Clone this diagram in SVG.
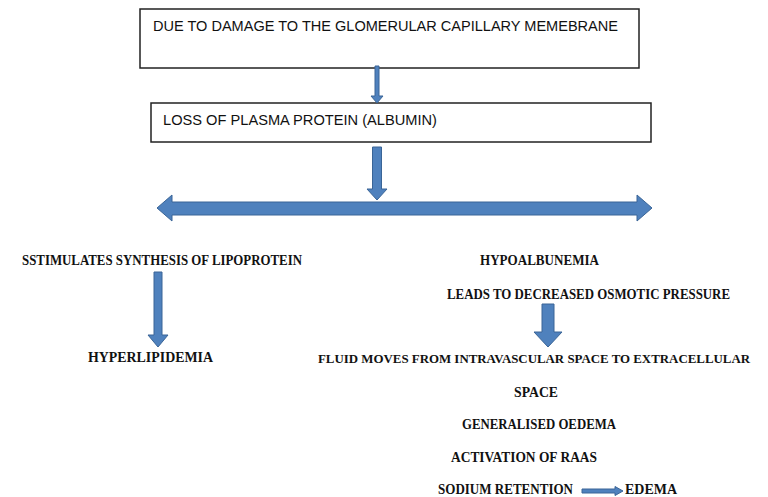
<svg xmlns="http://www.w3.org/2000/svg" width="768" height="497" viewBox="0 0 768 497">
<style>
.box{fill:#fff;stroke:#222;stroke-width:1.5}
.bt{font-family:"Liberation Sans",Arial,sans-serif;font-size:14.5px;fill:#111}
.t{font-family:"Liberation Serif","Times New Roman",serif;font-weight:bold;font-size:14px;fill:#111}
.arr{fill:#4F81BD;stroke:#3A6597;stroke-width:1}
</style>
<rect width="768" height="497" fill="#fff"/>
<g id="n1">
<rect class="box" x="140" y="9" width="499" height="59"/>
<text class="bt" x="153" y="31" textLength="465" lengthAdjust="spacingAndGlyphs">DUE TO DAMAGE TO THE GLOMERULAR CAPILLARY MEMEBRANE</text>
</g>
<g id="n2">
<rect class="box" x="151" y="103" width="500" height="39"/>
<text class="bt" x="163" y="125" textLength="274" lengthAdjust="spacingAndGlyphs">LOSS OF PLASMA PROTEIN (ALBUMIN)</text>
</g>
<g id="n3"><text class="t" x="22" y="265" textLength="280" lengthAdjust="spacingAndGlyphs">SSTIMULATES SYNTHESIS OF LIPOPROTEIN</text></g>
<g id="n4"><text class="t" x="88" y="362" textLength="125" lengthAdjust="spacingAndGlyphs">HYPERLIPIDEMIA</text></g>
<g id="n5"><text class="t" x="480" y="265" textLength="119" lengthAdjust="spacingAndGlyphs">HYPOALBUNEMIA</text></g>
<g id="n6"><text class="t" x="447" y="299" textLength="283" lengthAdjust="spacingAndGlyphs">LEADS TO DECREASED OSMOTIC PRESSURE</text></g>
<g id="n7">
<text class="t" x="318" y="363" font-size="12" style="font-size:12px" textLength="432" lengthAdjust="spacingAndGlyphs">FLUID MOVES FROM INTRAVASCULAR SPACE TO EXTRACELLULAR</text>
<text class="t" x="514" y="397" textLength="44" lengthAdjust="spacingAndGlyphs">SPACE</text>
</g>
<g id="n8"><text class="t" x="462" y="429" textLength="154" lengthAdjust="spacingAndGlyphs">GENERALISED OEDEMA</text></g>
<g id="n9"><text class="t" x="451" y="462" textLength="146" lengthAdjust="spacingAndGlyphs">ACTIVATION OF RAAS</text></g>
<g id="n10"><text class="t" x="438" y="494" textLength="135" lengthAdjust="spacingAndGlyphs">SODIUM RETENTION</text></g>
<g id="n11"><text class="t" x="625" y="494" textLength="52" lengthAdjust="spacingAndGlyphs">EDEMA</text></g>
<g id="connectors">
<polygon class="arr" points="375,66 379,66 379,96 383,96 377,103 371,96 375,96"/>
<polygon class="arr" points="372.5,147 381.5,147 381.5,189 387,189 377,200 367,189 372.5,189"/>
<polygon class="arr" points="157,208 172,195 172,202 637,202 637,195 652,208 637,221 637,215 172,215 172,221"/>
<polygon class="arr" points="154,272 162,272 162,335 168,335 158,347 148,335 154,335"/>
<polygon class="arr" points="542,304 554,304 554,332 562,332 548,347 534,332 542,332"/>
<polygon class="arr" points="582,489 615,489 615,486.5 623,491 615,495.5 615,493 582,493"/>
</g>
</svg>
